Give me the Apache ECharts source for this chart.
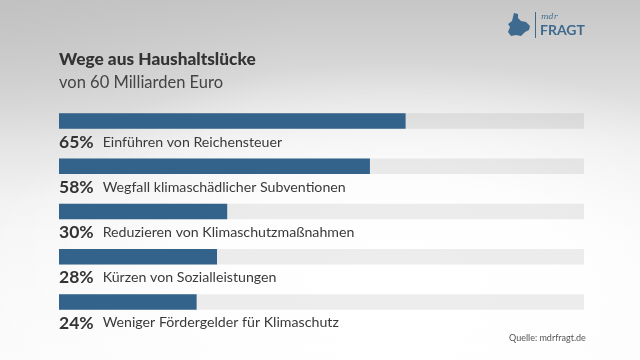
<!DOCTYPE html>
<html><head><meta charset="utf-8">
<script src="https://cdn.jsdelivr.net/npm/echarts@6/dist/echarts.min.js"></script>
<style>
html,body{margin:0;padding:0;}
#c{width:640px;height:360px;
background:
 radial-gradient(ellipse 420px 220px at 62% 78%, rgba(255,255,255,1) 0%, rgba(255,255,255,0.85) 45%, rgba(255,255,255,0) 100%),
 radial-gradient(ellipse 300px 200px at 0% 0%, rgba(190,190,190,0.6) 0%, rgba(190,190,190,0) 100%),
 linear-gradient(180deg,#c6c6c6 0%,#dadada 22%,#ececec 40%,#f6f6f6 65%,#fbfbfb 100%);}
</style></head>
<body><div id="c"></div>
<script>
const categories = ['Einführen von Reichensteuer','Wegfall klimaschädlicher Subventionen','Reduzieren von Klimaschutzmaßnahmen','Kürzen von Sozialleistungen','Weniger Fördergelder für Klimaschutz'];
const values = [65, 58, 30, 28, 24];
const axisMin = -3, axisMax = 100;

const chart = echarts.init(document.getElementById('c'));
const BAR_H = 15.5;
chart.setOption({
  backgroundColor: 'transparent',
  animation: false,
  grid: {left: 59, right: 56, top: 98.5, height: 226},
  xAxis: {type: 'value', min: axisMin, max: axisMax, show: false},
  yAxis: {type: 'category', data: categories, inverse: true, show: false},
  title: [
    {text: 'Wege aus Haushaltslücke', left: 59, top: 51, padding: 0, textStyle: {fontFamily: 'Lato', fontWeight: 900, fontSize: 17.3, color: '#333'}},
    {text: 'von 60 Milliarden Euro', left: 59, top: 74, padding: 0, textStyle: {fontFamily: 'Lato', fontWeight: 'normal', fontSize: 16.5, color: '#444'}}
  ],
  graphic: [
    {type: 'text', x: 509, y: 334, style: {text: 'Quelle: mdrfragt.de', fontFamily: 'Lato', fontSize: 9, fill: '#555'}},
    {type: 'rect', x: 535, y: 12, shape: {x: 0, y: 0, width: 1, height: 26}, style: {fill: '#3d6a8e'}},
    {type: 'text', x: 541, y: 13, style: {text: 'mdr', fontFamily: 'DejaVu Serif', fontStyle: 'italic', fontSize: 8, fill: '#3d6a8e'}},
    {type: 'text', x: 540, y: 23, style: {text: 'FRAGT', fontFamily: 'Lato', fontWeight: 'bold', fontSize: 14, fill: '#3d6a8e'}},
    {type: 'polygon', x: 508, y: 13, shape: {points: [[6,0],[10,1],[10,5],[13,8],[18,9],[22,13],[21,17],[17,19],[13,23],[8,22],[3,23],[0,19],[2,14],[0,11],[4,8],[5,4]]}, style: {fill: '#3d6a8e'}}
  ],
  series: [{
    type: 'custom',
    data: values.map((v, i) => [v, i]),
    encode: {x: 0, y: 1},
    renderItem: function (params, api) {
      const v = api.value(0), i = api.value(1);
      const s = api.coord([axisMin, i]);
      const e = api.coord([v, i]);
      const f = api.coord([axisMax, i]);
      const y = s[1] - BAR_H / 2;
      return {type: 'group', children: [
        {type: 'rect', shape: {x: s[0], y: y, width: f[0] - s[0], height: BAR_H}, style: {fill: 'rgba(0,0,0,0.07)'}},
        {type: 'rect', shape: {x: s[0], y: y, width: e[0] - s[0], height: BAR_H}, style: {fill: '#33628a'}},
        {type: 'text', x: s[0], y: s[1] + 21, style: {
          text: '{b|' + v + '%}{n|' + categories[i] + '}',
          verticalAlign: 'middle', align: 'left',
          rich: {
            b: {fontFamily: 'Lato', fontWeight: 'bold', fontSize: 17.5, fill: '#333'},
            n: {fontFamily: 'Lato', fontSize: 14.2, fill: '#3a3a3a', padding: [0, 0, 0, 9]}
          }
        }}
      ]};
    }
  }]
});
</script></body></html>
